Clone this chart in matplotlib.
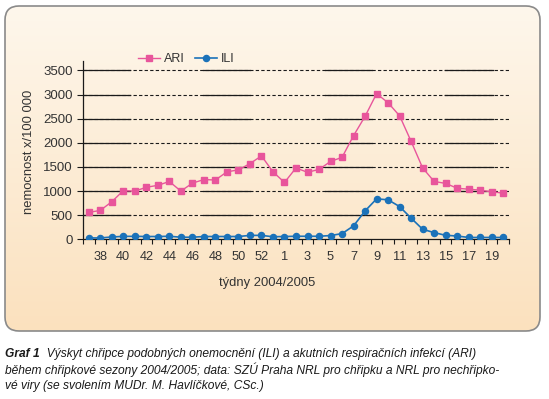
import matplotlib
matplotlib.use('Agg')
import matplotlib.pyplot as plt
import numpy as np
from matplotlib.patches import FancyBboxPatch

plt.rcParams['font.family'] = ['Liberation Sans', 'DejaVu Sans']

# ---- data ----
weeks = [37, 38, 39, 40, 41, 42, 43, 44, 45, 46, 47, 48, 49, 50, 51, 52, 53,
         1, 2, 3, 4, 5, 6, 7, 8, 9, 10, 11, 12, 13, 14, 15, 16, 17, 18, 19, 20]
ari = [560, 600, 780, 1010, 1000, 1080, 1120, 1200, 1000, 1165, 1240, 1230, 1400, 1440, 1570, 1730, 1400,
       1180, 1480, 1390, 1450, 1615, 1700, 2150, 2550, 3020, 2830, 2560, 2030, 1480, 1200, 1160, 1060,
       1040, 1020, 985, 960]
ili = [30, 30, 50, 63, 63, 60, 60, 65, 45, 45, 60, 60, 60, 60, 83, 83, 55,
       60, 65, 65, 65, 80, 120, 280, 590, 840, 820, 680, 440, 210, 140, 85, 70,
       40, 40, 40, 40]
yticks = [0, 500, 1000, 1500, 2000, 2500, 3000, 3500]
series_names = ['ARI', 'ILI']
ylabel = 'nemocnost x/100 000'
xlabel = 'týdny 2004/2005'

PINK = '#e8559b'
BLUE = '#1b72b9'

W, H = 549, 399
fig = plt.figure(figsize=(W / 100, H / 100), dpi=100)

# ---- background panel ----
bg = fig.add_axes([0, 0, 1, 1])
bg.set_xlim(0, W)
bg.set_ylim(H, 0)
bg.axis('off')
top_c = np.array([254, 247, 236]) / 255
bot_c = np.array([251, 225, 190]) / 255
t = np.linspace(0, 1, 256).reshape(-1, 1, 1)
img = top_c * (1 - t) + bot_c * t
panel = FancyBboxPatch((5, 6), 535, 325, boxstyle="round,pad=0,rounding_size=14",
                       fc='none', ec='#8a8a8a', lw=1.2, zorder=2)
bg.add_patch(panel)
im = bg.imshow(img, extent=(5, 540, 331, 6), aspect='auto', interpolation='bilinear', zorder=1)
im.set_clip_path(panel)

# ---- main axes ----
ax = fig.add_axes([83 / W, 1 - 239.4 / H, 426 / W, 178.6 / H])
ax.set_facecolor('none')
x = np.arange(len(weeks))

ax.set_xlim(-0.5, len(weeks) - 0.5)
ax.set_ylim(0, 3700)

# gridlines (dashed with solid stretches as in the reference)
segs = [(0.0, 0.110), (0.282, 0.392), (0.568, 0.678), (0.850, 0.962)]
for v in yticks[1:]:
    ax.axhline(v, color='#1a1a1a', lw=0.8, ls=(0, (3, 2)), zorder=1)
    for a, b in segs:
        ax.axhline(v, xmin=a, xmax=b, color='#1a1a1a', lw=0.9, zorder=1)

l1, = ax.plot(x, ari, color=PINK, lw=1.0, marker='s', ms=4.6, label=series_names[0], zorder=3)
l2, = ax.plot(x, ili, color=BLUE, lw=1.2, marker='o', ms=4.4, label=series_names[1], zorder=3)

ax.set_yticks(yticks)
ax.set_xticks(x[1::2])
ax.set_xticklabels([str(w) for w in weeks[1::2]])
ax.set_xticks(np.arange(-0.5, len(weeks) + 0.5, 1), minor=True)
ax.tick_params(axis='x', which='major', length=0, pad=8.0, labelsize=9.2, labelcolor='#333333')
ax.tick_params(axis='x', which='minor', length=3.8, width=0.8, direction='out', color='#1a1a1a')
ax.tick_params(axis='y', length=4.3, width=0.8, pad=2.9, labelsize=9.5, labelcolor='#333333', color='#1a1a1a')
for s in ['top', 'right']:
    ax.spines[s].set_visible(False)
for s in ['left', 'bottom']:
    ax.spines[s].set_color('#1a1a1a')
    ax.spines[s].set_linewidth(0.9)

fig.text(267.5 / W, 1 - 283 / H, xlabel, ha='center', va='center', fontsize=9.4, color='#333333')
fig.text(29.5 / W, 1 - 151.5 / H, ylabel, ha='center', va='center', rotation=90, fontsize=9.4, color='#333333')

fig.legend(handles=[l1, l2], loc='center', bbox_to_anchor=(186 / W, 1 - 59.3 / H), ncol=2,
           frameon=False, handlelength=1.8, handletextpad=0.3, columnspacing=0.8, fontsize=9,
           labelcolor='#333333', borderpad=0, borderaxespad=0)

# ---- caption ----
fs = 8.65
t1 = bg.text(5, 354, 'Graf 1', fontsize=fs, fontweight='bold', style='italic', va='center', ha='left',
             color='#1a1a1a')
bg.annotate('  Výskyt chřipce podobných onemocnění (ILI) a akutních respiračních infekcí (ARI)',
            xy=(1, 0), xycoords=t1, va='bottom', ha='left', fontsize=fs, style='italic', color='#1a1a1a')
bg.text(5, 370, 'během chřipkové sezony 2004/2005; data: SZÚ Praha NRL pro chřipku a NRL pro nechřipko-',
        fontsize=fs, style='italic', va='center', ha='left', color='#1a1a1a')
bg.text(5, 385.5, 'vé viry (se svolením MUDr. M. Havlíčkové, CSc.)',
        fontsize=fs, style='italic', va='center', ha='left', color='#1a1a1a')

fig.savefig('out.png', dpi=100)
